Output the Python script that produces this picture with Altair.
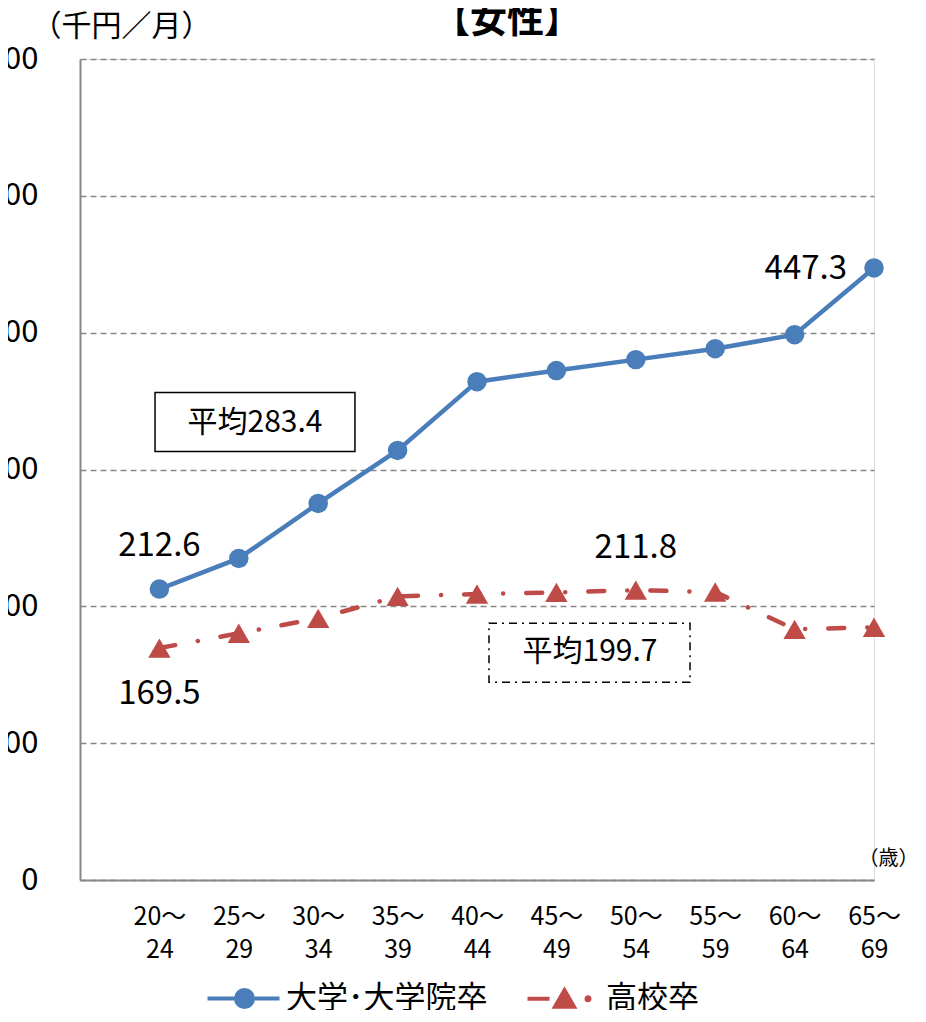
import json
import altair as alt
import pandas as pd

# ---------------- data ----------------
ages = ["20～24", "25～29", "30～34", "35～39", "40～44",
        "45～49", "50～54", "55～59", "60～64", "65～69"]
univ_values = [212.6, 235.0, 275.2, 313.9, 364.2, 372.3, 380.3, 388.3, 398.5, 447.3]
high_values = [169.5, 180.3, 191.2, 207.3, 209.0, 210.2, 211.8, 210.5, 183.2, 184.7]
series_names = ["大学･大学院卒", "高校卒"]
series_colors = ["#4A7EBB", "#BE4B48"]
y_ticks = [0, 100, 200, 300, 400, 500, 600]
averages = [283.4, 199.7]
chart_title = "【女性】"

# annotation anchors, in data units (x = age-group index, y = 千円)
avg_text_x = [1.204, 5.423]
avg_text_y = [334.3, 166.4]
avg_box_x = [-0.055, 4.151]
avg_box_x2 = [2.463, 6.683]
avg_box_y = [313.1, 144.5]
avg_box_y2 = [356.2, 187.6]
title_anchor = (4.378, 627.0)

FONT = "Noto Sans CJK JP"

rows = []
for i, a in enumerate(ages):
    rows.append({"i": i, "age": a, "value": univ_values[i], "series": series_names[0]})
for i, a in enumerate(ages):
    rows.append({"i": i, "age": a, "value": high_values[i], "series": series_names[1]})
df = pd.DataFrame(rows)

ann = pd.DataFrame({
    "k": [0, 1],
    "x": avg_box_x, "x2": avg_box_x2, "y": avg_box_y, "y2": avg_box_y2,
    "tx": avg_text_x, "ty": avg_text_y,
    "label": ["平均" + f"{v:.1f}" for v in averages],
})
title_df = pd.DataFrame({"tx": [title_anchor[0]], "ty": [title_anchor[1]], "label": [chart_title]})

top_lines = [a.split("～")[0] + "～" for a in ages]
bot_lines = [a.split("～")[1] for a in ages]
label_expr = "[{}[datum.value], {}[datum.value]]".format(
    json.dumps(top_lines, ensure_ascii=False), json.dumps(bot_lines, ensure_ascii=False))

x_enc = alt.X(
    "i:Q",
    scale=alt.Scale(domain=[-1, 9], nice=False, zero=False),
    axis=alt.Axis(
        values=list(range(len(ages))), labelExpr=label_expr, grid=False,
        ticks=False, tickSize=0, domainColor="#888888", domainWidth=2,
        labelFont=FONT, labelFontSize=25, labelColor="black", labelPadding=24,
        labelLineHeight=33, labelFlush=False, labelAlign="center", labelBaseline="top",
        labelOverlap=False, title="（歳）", titleX=808, titleY=-22, titleAlign="center",
        titleBaseline="middle", titleFont=FONT, titleFontSize=20,
        titleFontWeight="normal", titleColor="black",
    ),
)
y_enc = alt.Y(
    "value:Q",
    scale=alt.Scale(domain=[0, 600], nice=False, zero=True),
    axis=alt.Axis(
        values=y_ticks, grid=True, gridDash=[6, 4], gridColor="#888888", gridWidth=1.5,
        ticks=False, tickSize=0, domainColor="#888888", domainWidth=2,
        labelFont=FONT, labelFontSize=31, labelColor="black", labelPadding=42,
        labelOverlap=False,
        title="（千円／月）", titleAngle=0, titleX=41, titleY=-33, titleAlign="center",
        titleBaseline="middle", titleFont=FONT, titleFontSize=30,
        titleFontWeight="normal", titleColor="black",
    ),
)

base = alt.Chart(df).encode(x=x_enc, y=y_enc)
is_u = alt.datum.series == series_names[0]
is_h = alt.datum.series == series_names[1]

line_u = base.mark_line(color=series_colors[0], strokeWidth=4.5).transform_filter(is_u)
line_h = base.mark_line(color=series_colors[1], strokeWidth=4.5, strokeDash=[16, 23, 0.1, 23],
                        strokeCap="round").transform_filter(is_h)
pts_u = base.mark_point(shape="circle", filled=True, size=380, opacity=1,
                        color=series_colors[0]).transform_filter(is_u)
pts_h = base.mark_point(shape="triangle-up", filled=True, size=500, opacity=1,
                        color=series_colors[1]).transform_filter(is_h)

# legend symbols (line + marker), drawn only in the legend
path_u = ("M-3.7,0L3.5,0M-0.85,0A0.85,0.85,0,1,1,0.85,0A0.85,0.85,0,1,1,-0.85,0Z")
path_h = ("M-3.7,0L-1.5,0M-0.95,0.8L0,-0.85L0.95,0.8Z"
          "M2.2,0A0.15,0.15,0,1,1,2.5,0A0.15,0.15,0,1,1,2.2,0Z")
leg = alt.Legend(
    orient="none", legendX=149, legendY=924, direction="horizontal", title=None,
    labelFont=FONT, labelFontSize=31, labelColor="black", labelLimit=0, symbolSize=400,
    symbolStrokeWidth=4, labelOffset=26, columnPadding=31, padding=0, symbolOpacity=1,
)
col_scale = alt.Scale(domain=series_names, range=series_colors)
legend_layer = base.mark_point(opacity=0, size=1).encode(
    fill=alt.Fill("series:N", scale=col_scale, legend=leg),
    stroke=alt.Stroke("series:N", scale=col_scale, legend=leg),
    shape=alt.Shape("series:N", scale=alt.Scale(domain=series_names, range=[path_u, path_h]),
                    legend=leg),
)

txt = dict(font=FONT, fontSize=33, color="black", baseline="middle")
lab_u0 = base.mark_text(dy=-43, **txt).encode(
    text=alt.Text("value:Q", format=".1f")).transform_filter(is_u & (alt.datum.i == 0))
lab_u9 = base.mark_text(dy=1, dx=-27, align="right", **txt).encode(
    text=alt.Text("value:Q", format=".1f")).transform_filter(is_u & (alt.datum.i == 9))
lab_h0 = base.mark_text(dy=46, **txt).encode(
    text=alt.Text("value:Q", format=".1f")).transform_filter(is_h & (alt.datum.i == 0))
lab_h6 = base.mark_text(dy=-42, **txt).encode(
    text=alt.Text("value:Q", format=".1f")).transform_filter(is_h & (alt.datum.i == 6))

abase = alt.Chart(ann)
box_u = abase.mark_rect(fill="white", stroke="black", strokeWidth=1.5).encode(
    x="x:Q", x2="x2:Q", y="y:Q", y2="y2:Q").transform_filter(alt.datum.k == 0)
box_h = abase.mark_rect(fill="white", stroke="black", strokeWidth=1.5,
                        strokeDash=[8, 5, 2, 5]).encode(
    x="x:Q", x2="x2:Q", y="y:Q", y2="y2:Q").transform_filter(alt.datum.k == 1)
box_txt = abase.mark_text(font=FONT, fontSize=30, color="black", baseline="middle").encode(
    x="tx:Q", y="ty:Q", text="label:N")

title_txt = alt.Chart(title_df).mark_text(
    font=FONT, fontSize=37, fontWeight="bold", color="black", baseline="middle"
).encode(x="tx:Q", y="ty:Q", text="label:N")

chart = alt.layer(
    box_u, box_h, box_txt, line_u, line_h, pts_u, pts_h, legend_layer,
    lab_u0, lab_u9, lab_h0, lab_h6, title_txt,
).properties(
    width=794, height=821,
    padding={"left": 72, "top": 51, "right": 44, "bottom": 130},
    autosize=alt.AutoSizeParams(type="none"),
).configure_view(stroke=None).configure(background="white")

chart.save("out.html", embed_options={"renderer": "svg", "actions": False})
